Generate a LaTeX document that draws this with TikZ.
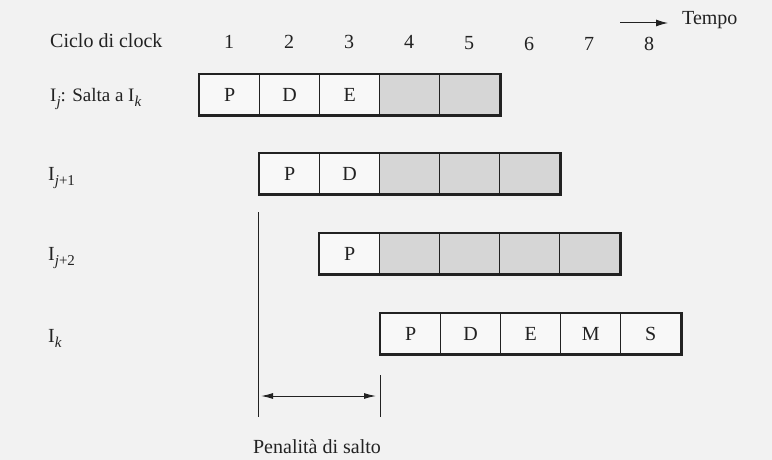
\documentclass[tikz,border=0pt]{standalone}
\usepackage{fontspec}
\setmainfont{Liberation Serif}
\usetikzlibrary{arrows.meta}
\definecolor{bg}{HTML}{F2F2F2}
\definecolor{cellw}{HTML}{F8F8F8}
\definecolor{cellg}{HTML}{D6D6D6}
\definecolor{ink}{HTML}{222222}
\newcommand{\lowidx}[1]{\raisebox{-5pt}{\fontsize{15}{15}\selectfont #1}}
\begin{document}
\begin{tikzpicture}[x=1pt,y=-1pt,
  txt/.style={font=\fontsize{20}{22}\selectfont, text=ink, inner sep=0pt},
  cell/.style={draw=ink, line width=1.4pt, minimum width=60pt, minimum height=40pt,
    inner sep=0pt, anchor=north west, font=\fontsize{20}{22}\selectfont, text=ink},
  rowframe/.style={draw=ink, line width=2.5pt},
  guide/.style={draw=ink, line width=1pt},
  tip/.style={-{Latex[length=12pt,width=7pt]}, draw=ink, line width=1pt}]
\fill[bg] (0,0) rectangle (772,460);
\useasboundingbox (0,0) rectangle (772,460);

% header
\node[txt, anchor=west] (ciclo) at (50,41) {Ciclo di clock};
\foreach \n/\y in {1/42,2/42,3/42,4/42,5/43,6/44,7/44,8/44}
  \node[txt] (c\n) at ({229+(\n-1)*60},\y) {\n};
\coordinate (t0) at (620,23);
\coordinate (t1) at (668,23);
\draw[tip] (t0) -- (t1);
\node[txt, anchor=west] (tempo) at (682,20) {Tempo};

% row labels
\node[txt, anchor=west, font=\fontsize{19}{21}\selectfont] (lj) at (50,99) {I\lowidx{\textit{j}}: Salta a I\lowidx{\textit{k}}};
\node[txt, anchor=west] (lj1) at (48,178) {I\lowidx{\textit{j}+1}};
\node[txt, anchor=west] (lj2) at (48,258) {I\lowidx{\textit{j}+2}};
\node[txt, anchor=west] (lk) at (48,338) {I\lowidx{\textit{k}}};

% row Ij
\foreach \lab/\f [count=\i] in {P/cellw,D/cellw,E/cellw,{}/cellg,{}/cellg}
  \node[cell, fill=\f] (a\i) at ({199+(\i-1)*60},74) {\lab};
\draw[rowframe] (a1.north west) rectangle (a5.south east);
% row Ij+1
\foreach \lab/\f [count=\i] in {P/cellw,D/cellw,{}/cellg,{}/cellg,{}/cellg}
  \node[cell, fill=\f] (b\i) at ({259+(\i-1)*60},153) {\lab};
\draw[rowframe] (b1.north west) rectangle (b5.south east);
% row Ij+2
\foreach \lab/\f [count=\i] in {P/cellw,{}/cellg,{}/cellg,{}/cellg,{}/cellg}
  \node[cell, fill=\f] (d\i) at ({319+(\i-1)*60},233) {\lab};
\draw[rowframe] (d1.north west) rectangle (d5.south east);
% row Ik
\foreach \lab/\f [count=\i] in {P/cellw,D/cellw,E/cellw,M/cellw,S/cellw}
  \node[cell, fill=\f] (k\i) at ({380+(\i-1)*60},313) {\lab};
\draw[rowframe] (k1.north west) rectangle (k5.south east);

% penalty
\coordinate (v1a) at (258,212);
\coordinate (v1b) at (258,417);
\coordinate (v2a) at (380,375);
\coordinate (v2b) at (380,417);
\draw[guide] (v1a) -- (v1b);
\draw[guide] (v2a) -- (v2b);
\coordinate (p0) at (261,396);
\coordinate (p1) at (376,396);
\draw[{Latex[length=12pt,width=6pt]}-{Latex[length=12pt,width=6pt]}, draw=ink, line width=1pt] (p0) -- (p1);
\node[txt] (pen) at (317,447) {Penalità di salto};
\end{tikzpicture}
\end{document}
